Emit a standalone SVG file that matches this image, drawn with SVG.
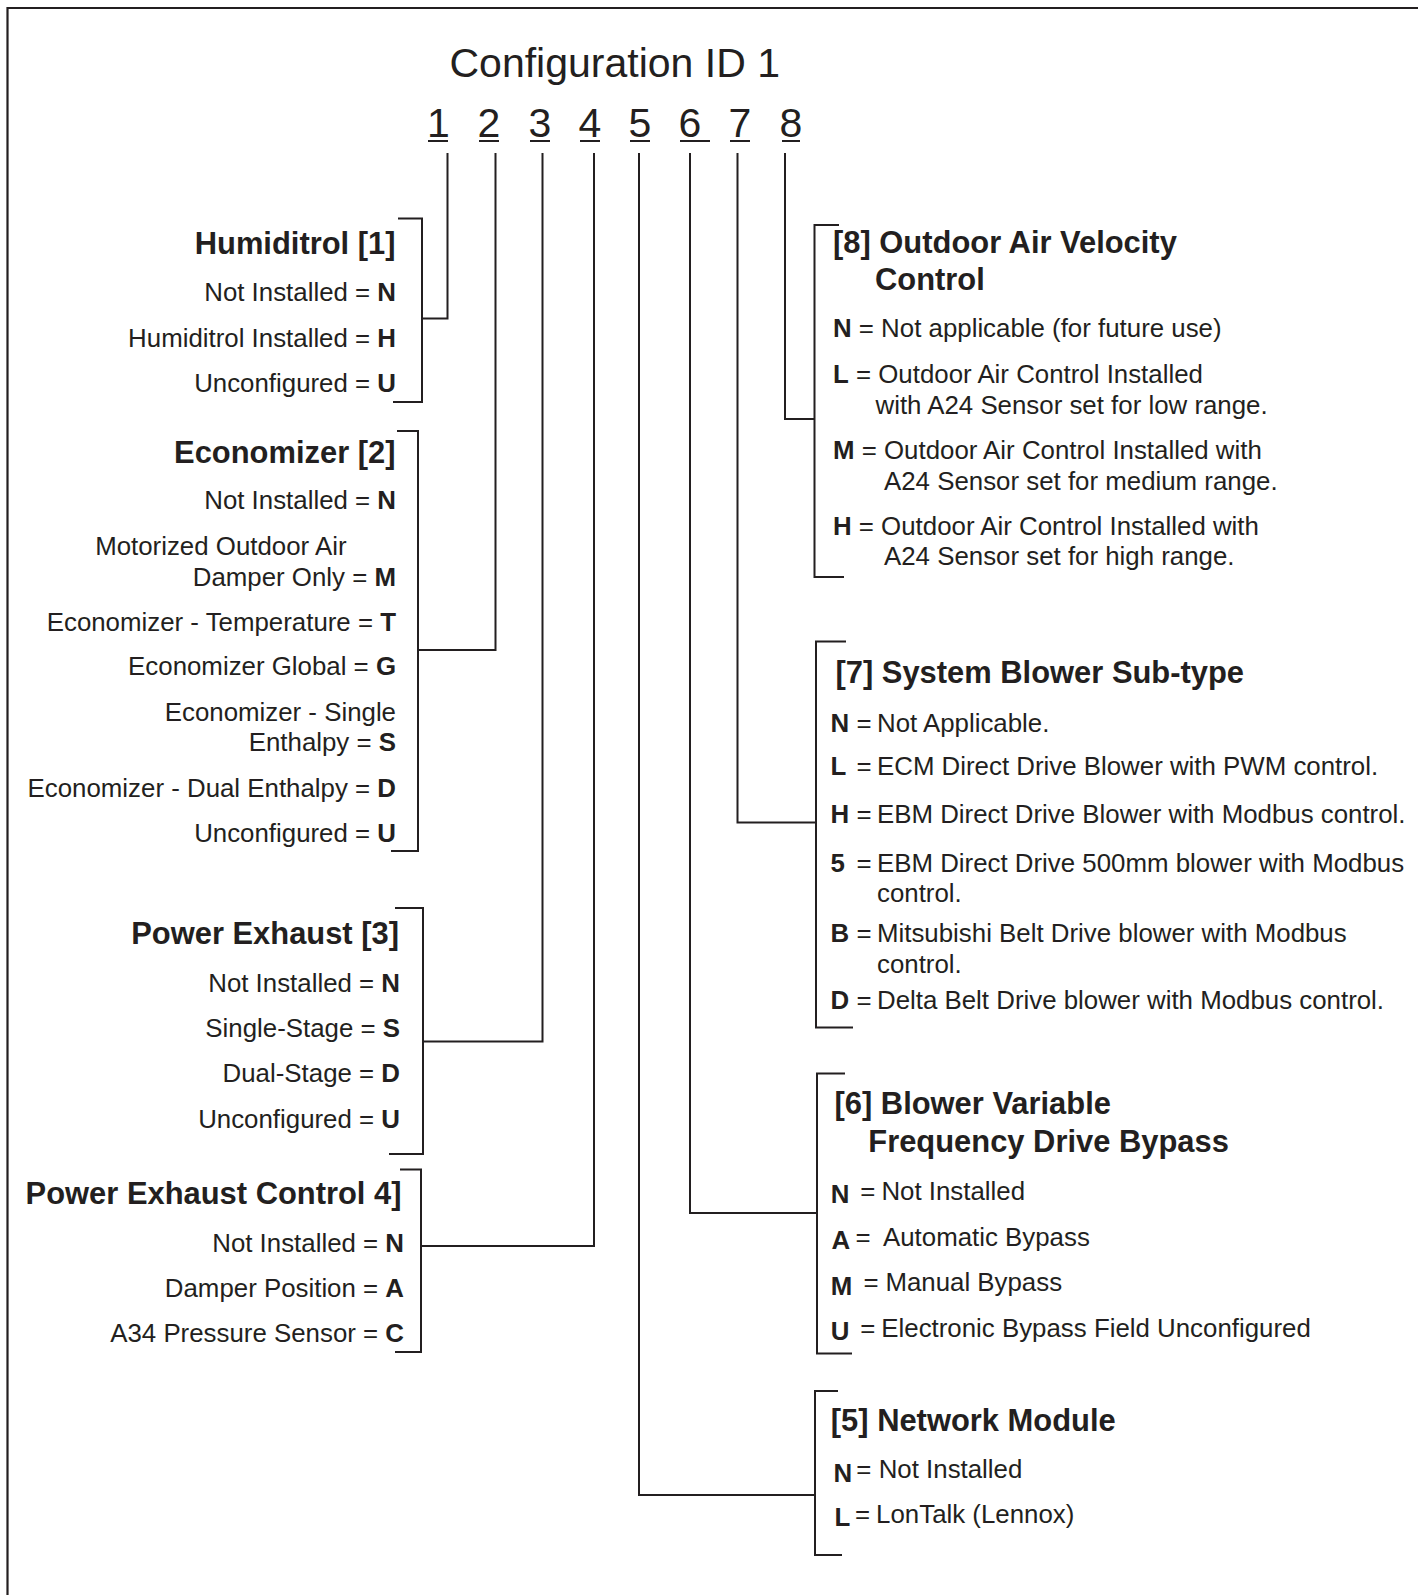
<svg xmlns="http://www.w3.org/2000/svg" width="1418" height="1595" viewBox="0 0 1418 1595">
<style>
.ln{fill:none;stroke:#231f20;stroke-width:2}
.frame{fill:none;stroke:#231f20;stroke-width:2.2}
text{font-family:"Liberation Sans",Arial,Helvetica,sans-serif;fill:#231f20}
.h{font-weight:bold;font-size:30.9px}
.t{font-size:25.85px}
.b{font-weight:bold}
.r{text-anchor:end}
.title{font-size:41px}
.dg{font-size:41px;text-anchor:middle}
</style>
<rect width="1418" height="1595" fill="#ffffff"/>
<path class="frame" d="M7.5 1595 V8 H1418"/>

<g id="header">
<text class="title" x="449.5" y="76.5">Configuration ID 1</text>
<text class="dg" x="438.5" y="136.5">1</text>
<text class="dg" x="489" y="136.5">2</text>
<text class="dg" x="540" y="136.5">3</text>
<text class="dg" x="590" y="136.5">4</text>
<text class="dg" x="640" y="136.5">5</text>
<text class="dg" x="690" y="136.5">6</text>
<text class="dg" x="740" y="136.5">7</text>
<text class="dg" x="791" y="136.5">8</text>
<path class="ln" d="M428 141 H448 M479 141 H499 M530 141 H550 M580 141 H600 M630 141 H650 M680 141 H710 M730 141 H750 M782 141 H800"/>
</g>

<g id="connectors">
<path class="ln" d="M447.5 153 V318.5 H422"/>
<path class="ln" d="M495.5 153 V650 H418"/>
<path class="ln" d="M542.5 153 V1041.5 H423"/>
<path class="ln" d="M594 153 V1246 H421"/>
<path class="ln" d="M639 153 V1495 H815"/>
<path class="ln" d="M690 153 V1213 H817"/>
<path class="ln" d="M737.5 153 V822.5 H816"/>
<path class="ln" d="M785 153 V419 H814.5"/>
</g>

<g id="node1">
<path class="ln" d="M398 218.5 H422 V402 H393"/>
<text class="h r" x="395.5" y="254">Humiditrol [1]</text>
<text class="t r" x="396" y="301">Not Installed = <tspan class="b">N</tspan></text>
<text class="t r" x="396" y="347">Humiditrol Installed = <tspan class="b">H</tspan></text>
<text class="t r" x="396" y="392">Unconfigured = <tspan class="b">U</tspan></text>
</g>

<g id="node2">
<path class="ln" d="M397 431 H418 V851 H391"/>
<text class="h r" x="395.5" y="463">Economizer [2]</text>
<text class="t r" x="396" y="508.5">Not Installed = <tspan class="b">N</tspan></text>
<text class="t r" x="346.5" y="554.5">Motorized Outdoor Air</text>
<text class="t r" x="396" y="586">Damper Only = <tspan class="b">M</tspan></text>
<text class="t r" x="396" y="630.5">Economizer - Temperature = <tspan class="b">T</tspan></text>
<text class="t r" x="396" y="675">Economizer Global = <tspan class="b">G</tspan></text>
<text class="t r" x="396" y="721">Economizer - Single</text>
<text class="t r" x="396" y="751">Enthalpy = <tspan class="b">S</tspan></text>
<text class="t r" x="396" y="796.5">Economizer - Dual Enthalpy = <tspan class="b">D</tspan></text>
<text class="t r" x="396" y="842">Unconfigured = <tspan class="b">U</tspan></text>
</g>

<g id="node3">
<path class="ln" d="M395 908 H423 V1154 H389"/>
<text class="h r" x="399" y="943.5">Power Exhaust [3]</text>
<text class="t r" x="400" y="991.5">Not Installed = <tspan class="b">N</tspan></text>
<text class="t r" x="400" y="1036.5">Single-Stage = <tspan class="b">S</tspan></text>
<text class="t r" x="400" y="1082">Dual-Stage = <tspan class="b">D</tspan></text>
<text class="t r" x="400" y="1127.5">Unconfigured = <tspan class="b">U</tspan></text>
</g>

<g id="node4">
<path class="ln" d="M400 1169.5 H421 V1352 H395"/>
<text class="h r" x="401.5" y="1203.5">Power Exhaust Control 4]</text>
<text class="t r" x="404" y="1252">Not Installed = <tspan class="b">N</tspan></text>
<text class="t r" x="404" y="1296.5">Damper Position = <tspan class="b">A</tspan></text>
<text class="t r" x="404" y="1341.5">A34 Pressure Sensor = <tspan class="b">C</tspan></text>
</g>

<g id="node8">
<path class="ln" d="M839 225 H814.5 V577 H844"/>
<text class="h" x="833" y="252.5">[8] Outdoor Air Velocity</text>
<text class="h" x="875" y="290">Control</text>
<text class="t" x="833" y="337"><tspan class="b">N</tspan> = Not applicable (for future use)</text>
<text class="t" x="833" y="383"><tspan class="b">L</tspan> = Outdoor Air Control Installed</text>
<text class="t" x="875.5" y="413.5">with A24 Sensor set for low range.</text>
<text class="t" x="833" y="458.5"><tspan class="b">M</tspan> = Outdoor Air Control Installed with</text>
<text class="t" x="884" y="489.5">A24 Sensor set for medium range.</text>
<text class="t" x="833" y="534.5"><tspan class="b">H</tspan> = Outdoor Air Control Installed with</text>
<text class="t" x="884" y="565">A24 Sensor set for high range.</text>
</g>

<g id="node7">
<path class="ln" d="M846 641.5 H816 V1027.5 H853"/>
<text class="h" x="835.5" y="683">[7] System Blower Sub-type</text>
<text class="t" y="731.5"><tspan class="b" x="830.5">N</tspan><tspan x="856.5">=</tspan><tspan x="877">Not Applicable.</tspan></text>
<text class="t" y="775"><tspan class="b" x="830.5">L</tspan><tspan x="856.5">=</tspan><tspan x="877">ECM Direct Drive Blower with PWM control.</tspan></text>
<text class="t" y="823"><tspan class="b" x="830.5">H</tspan><tspan x="856.5">=</tspan><tspan x="877">EBM Direct Drive Blower with Modbus control.</tspan></text>
<text class="t" y="871.5"><tspan class="b" x="830.5">5</tspan><tspan x="856.5">=</tspan><tspan x="877">EBM Direct Drive 500mm blower with Modbus</tspan></text>
<text class="t" x="877" y="902">control.</text>
<text class="t" y="942"><tspan class="b" x="830.5">B</tspan><tspan x="856.5">=</tspan><tspan x="877">Mitsubishi Belt Drive blower with Modbus</tspan></text>
<text class="t" x="877" y="972.5">control.</text>
<text class="t" y="1009"><tspan class="b" x="830.5">D</tspan><tspan x="856.5">=</tspan><tspan x="877">Delta Belt Drive blower with Modbus control.</tspan></text>
</g>

<g id="node6">
<path class="ln" d="M845 1073.5 H817 V1353.5 H852"/>
<text class="h" x="834.5" y="1113.5">[6] Blower Variable</text>
<text class="h" x="868.3" y="1151.5">Frequency Drive Bypass</text>
<text class="t b" x="830.8" y="1203">N</text>
<text class="t" y="1200"><tspan x="860.2">=</tspan><tspan x="881.4">Not Installed</tspan></text>
<text class="t b" x="831.5" y="1249">A</text>
<text class="t" y="1246"><tspan x="855.5">=</tspan><tspan x="883">Automatic Bypass</tspan></text>
<text class="t b" x="830.8" y="1295">M</text>
<text class="t" y="1291"><tspan x="863.5">=</tspan><tspan x="885.4">Manual Bypass</tspan></text>
<text class="t b" x="830.8" y="1340">U</text>
<text class="t" y="1337"><tspan x="860.2">=</tspan><tspan x="881.3">Electronic Bypass Field Unconfigured</tspan></text>
</g>

<g id="node5">
<path class="ln" d="M838 1391 H815 V1555 H842"/>
<text class="h" x="830.8" y="1431">[5] Network Module</text>
<text class="t b" x="833.4" y="1482">N</text>
<text class="t" y="1478"><tspan x="856.2">=</tspan><tspan x="878.7">Not Installed</tspan></text>
<text class="t b" x="834.4" y="1526">L</text>
<text class="t" y="1522.5"><tspan x="855.1">=</tspan><tspan x="876.1">LonTalk (Lennox)</tspan></text>
</g>
</svg>
